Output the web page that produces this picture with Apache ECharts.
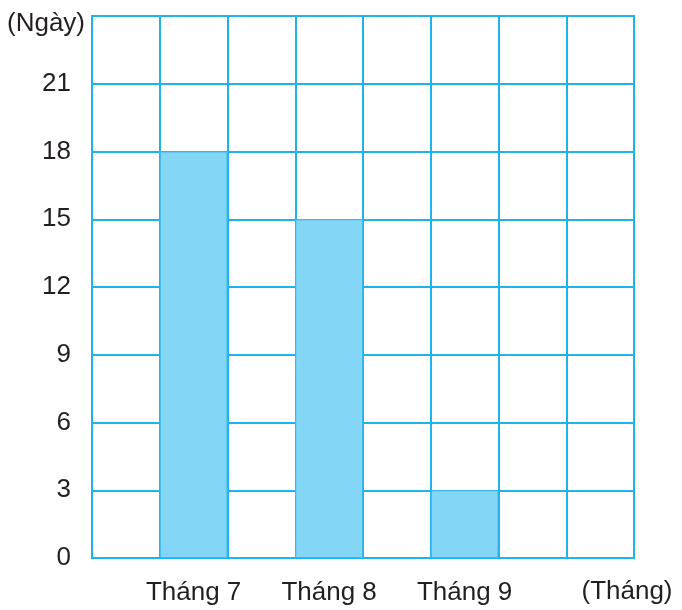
<!DOCTYPE html>
<html>
<head>
<meta charset="utf-8">
<script src="https://cdn.jsdelivr.net/npm/echarts@6/dist/echarts.min.js"></script>
<style>
html,body{margin:0;padding:0;background:#fff;}
#chart{width:682px;height:610px;}
</style>
</head>
<body>
<div id="chart"></div>
<script>
const categories = ['', 'Tháng 7', '', 'Tháng 8', '', 'Tháng 9', '', ''];
const days = [null, 18, null, 15, null, 3, null, null];
const yMin = 0;
const yMax = 24;
const yStep = 3;
const xName = '(Tháng)';
const yName = '(Ngày)';

const lineColor = '#1fb3ee';
const barColor = '#84d6f7';
const textColor = '#231f20';
const font = '"Liberation Sans", Arial, sans-serif';

const chart = echarts.init(document.getElementById('chart'));
chart.setOption({
  animation: false,
  grid: {
    left: 92, right: 48, top: 16, bottom: 52,
    show: true, borderColor: lineColor, borderWidth: 2, backgroundColor: '#fff',
    containLabel: false
  },
  xAxis: {
    type: 'category',
    data: categories,
    boundaryGap: true,
    name: xName,
    nameLocation: 'end',
    nameGap: -7,
    nameTextStyle: {
      fontFamily: font, fontSize: 26, color: textColor,
      align: 'center', verticalAlign: 'top', padding: [21, 0, 0, 0]
    },
    axisLine: { show: true, lineStyle: { color: lineColor, width: 2 } },
    axisTick: { show: false },
    axisLabel: {
      interval: 0, margin: 22,
      fontFamily: font, fontSize: 26, color: textColor
    },
    splitLine: { show: true, interval: 0, lineStyle: { color: lineColor, width: 2 } }
  },
  yAxis: {
    type: 'value',
    min: yMin, max: yMax, interval: yStep,
    name: yName,
    nameLocation: 'end',
    nameGap: -8,
    nameTextStyle: {
      fontFamily: font, fontSize: 26, color: textColor,
      align: 'right', verticalAlign: 'middle', padding: [0, 7, 0, 0]
    },
    axisLine: { show: true, lineStyle: { color: lineColor, width: 2 } },
    axisTick: { show: false },
    axisLabel: {
      margin: 21,
      fontFamily: font, fontSize: 26, color: textColor,
      padding: [0, 0, 5, 0],
      formatter: v => (v === yMax ? '' : String(v))
    },
    splitLine: { show: true, lineStyle: { color: lineColor, width: 2 } }
  },
  series: [{
    type: 'bar',
    data: days,
    barWidth: '100%',
    itemStyle: { color: barColor, borderColor: '#38b8ec', borderWidth: 1 }
  }]
});
</script>
</body>
</html>
